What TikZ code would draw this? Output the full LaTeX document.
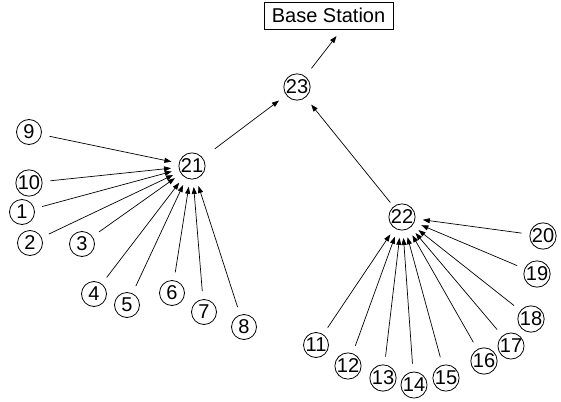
\documentclass[tikz,border=0pt]{standalone}
\usepackage{fontspec}
\setmainfont{Liberation Sans}
\usetikzlibrary{arrows.meta}
\begin{document}
\begin{tikzpicture}[x=1pt,y=-1pt,
  nd/.style={circle,draw,line width=0.8pt,inner sep=0pt,minimum size=25pt,font=\fontsize{20}{20}\selectfont},
  bsbox/.style={draw,line width=0.8pt,minimum width=129pt,minimum height=27pt,inner sep=0pt,font=\fontsize{20}{20}\selectfont},
  arr/.style={-{Triangle[length=7pt,width=5pt]},line width=0.7pt,shorten <=8pt,shorten >=7.5pt}]
\useasboundingbox (0,0) rectangle (561,401);
\node[bsbox] (bs) at (328.5,15.5) {Base Station};
\coordinate (bsin) at (342,29);
\node[nd] (n23) at (297,87) {23};
\node[nd] (n21) at (192,166) {21};
\node[nd] (n22) at (402,217) {22};
\node[nd] (n9) at (29,132) {9};
\node[nd] (n10) at (29,183) {10};
\node[nd] (n1) at (22,212) {1};
\node[nd] (n2) at (30,243) {2};
\node[nd] (n3) at (82,244) {3};
\node[nd] (n4) at (94,294) {4};
\node[nd] (n5) at (127,305) {5};
\node[nd] (n6) at (172,293) {6};
\node[nd] (n7) at (204,312) {7};
\node[nd] (n8) at (244,327) {8};
\node[nd] (n11) at (316,345) {11};
\node[nd] (n12) at (348,366) {12};
\node[nd] (n13) at (383,378) {13};
\node[nd] (n14) at (414,385) {14};
\node[nd] (n15) at (446,378) {15};
\node[nd] (n16) at (484,361) {16};
\node[nd] (n17) at (511,346) {17};
\node[nd] (n18) at (531,319) {18};
\node[nd] (n19) at (537,274) {19};
\node[nd] (n20) at (543,236) {20};
\foreach \i in {1,...,10} \draw[arr] (n\i) -- (n21);
\foreach \i in {11,...,20} \draw[arr] (n\i) -- (n22);
\draw[arr,shorten <=15pt,shorten >=9pt] (n21) -- (n23);
\draw[arr,shorten <=5pt,shorten >=9pt] (n22) -- (n23);
\draw[arr,shorten <=10pt,shorten >=9pt] (n23) -- (bsin);
\end{tikzpicture}
\end{document}
